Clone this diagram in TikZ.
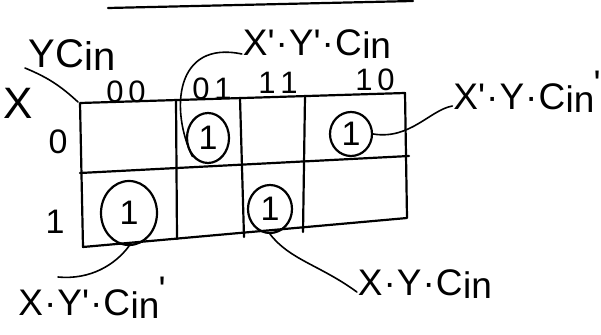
\documentclass[tikz,border=0pt]{standalone}
\usepackage{fontspec}
\setmainfont{Liberation Sans}
\usetikzlibrary{shapes.geometric}
\newcommand{\pq}{\textquotesingle}
\newcommand{\md}{\kern1pt\textperiodcentered\kern1pt}
\newcommand{\cin}{C\kern0.5pt\raisebox{-3pt}{in}}
\newcommand{\cinp}{C\kern0.5pt\raisebox{-3pt}{in}\kern-1pt\raisebox{13pt}{\pq}}
\begin{document}
\begin{tikzpicture}[x=1pt,y=-1pt,line width=2.2pt,line cap=round,line join=round,
  lbl/.style={font=\fontsize{37}{41}\selectfont,inner sep=0pt},
  hd/.style={font=\fontsize{31}{35}\selectfont,inner sep=0pt},
  rw/.style={font=\fontsize{34}{38}\selectfont,inner sep=0pt},
  one/.style={draw,ellipse,inner sep=0pt,font=\fontsize{34}{38}\selectfont},
  link/.style={line width=1.6pt}]
\useasboundingbox (0,0) rectangle (601,334);
% top stroke
\coordinate (s1) at (108,8); \coordinate (s2) at (413,1);
\draw (s1) -- (s2);
% grid
\coordinate (tl) at (80,103); \coordinate (tr) at (405,93);
\coordinate (bl) at (83,247); \coordinate (br) at (407,218);
\coordinate (ml) at (80,173); \coordinate (mr) at (409,156);
\coordinate (c1t) at (176,100); \coordinate (c1b) at (177,239);
\coordinate (c2t) at (240,98);  \coordinate (c2b) at (244,237);
\coordinate (c3t) at (305,96);  \coordinate (c3b) at (303,232);
\draw (tl) -- (tr) -- (br) -- (bl) -- cycle;
\draw (ml) -- (mr);
\draw (c1t) -- (c1b); \draw (c2t) -- (c2b); \draw (c3t) -- (c3b);
% corner label
\coordinate (d1) at (25,68); \coordinate (d2) at (78,102);
\draw[link] (d1) to[bend left=10] (d2);
\node[lbl,font=\fontsize{40}{44}\selectfont] (yc) at (72,55) {Y\cin};
\node[lbl,font=\fontsize{44}{48}\selectfont] (x) at (18,103) {X};
% column and row heads
\node[hd] (h00) at (126,92) {0\kern5pt0};
\node[hd] (h01) at (212,89) {0\kern5pt1};
\node[hd] (h11) at (278,83) {1\kern5pt1};
\node[hd] (h10) at (375,80) {1\kern5pt0};
\node[rw] (r0) at (58,142) {0};
\node[rw] (r1) at (55,222) {1};
% circled ones
\node[one,minimum width=42pt,minimum height=50pt] (e1) at (208,138) {1};
\node[one,minimum width=42pt,minimum height=44pt] (e2) at (351,134) {1};
\node[one,minimum width=56pt,minimum height=64pt] (e3) at (129,213) {1};
\node[one,minimum width=44pt,minimum height=48pt] (e4) at (270,209) {1};
% labels
\node[lbl] (t1) at (317,44) {X\pq\md Y\pq\md\cin};
\node[lbl] (t2) at (527,92) {X\pq\md Y\md\cinp};
\node[lbl] (t3) at (92,298) {X\md Y\pq\md\cinp};
\node[lbl] (t4) at (425,284) {X\md Y\md\cin};
% connectors
\draw[link] ([yshift=-10pt]t1.west) .. controls (175,40) and (170,110) .. (e1.south west);
\draw[link] (e2.east) .. controls (410,140) and (430,110) .. ([yshift=-14pt]t2.west);
\draw[link] (e3.south) .. controls (115,265) and (90,280) .. (58,277);
\draw[link] (e4.south) .. controls (290,260) and (320,265) .. ([yshift=-8pt]t4.west);
\end{tikzpicture}
\end{document}
